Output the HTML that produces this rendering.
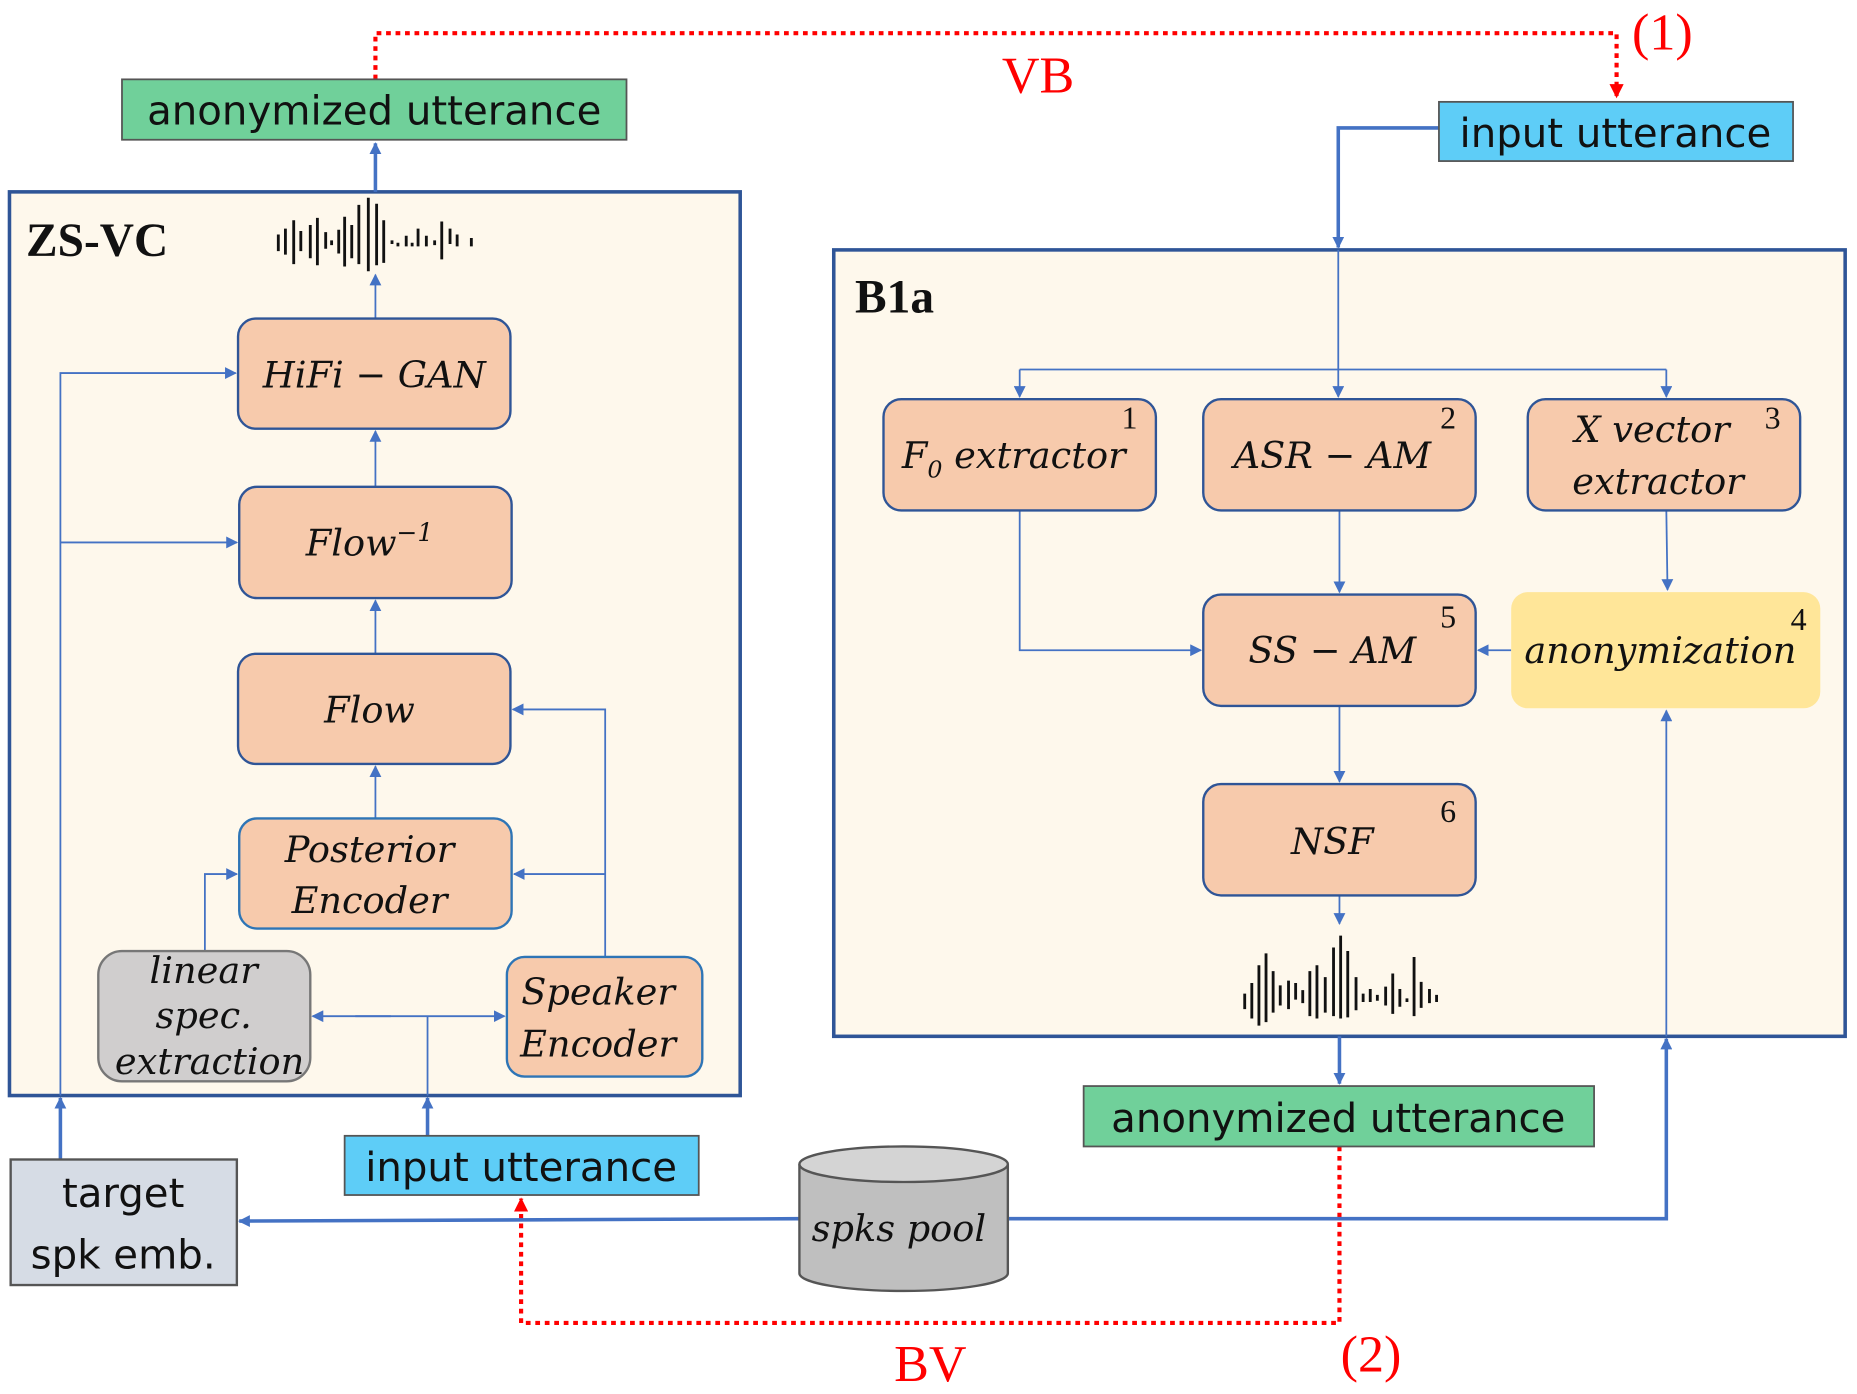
<!DOCTYPE html>
<html><head><style>
html,body{margin:0;padding:0;background:#fff;}
svg{display:block;}
.m{font-family:"DejaVu Serif","Liberation Serif",serif;font-style:italic;font-size:31px;fill:#111;text-anchor:middle;}
.s{font-family:"DejaVu Sans","Liberation Sans",sans-serif;font-size:34px;fill:#111;text-anchor:middle;}
.n{font-family:"Liberation Serif",serif;font-size:27px;fill:#111;}
.r{font-family:"Liberation Serif",serif;font-size:44px;fill:#f00;}
.b{font-family:"Liberation Serif",serif;font-weight:bold;font-size:40px;fill:#111;}
</style></head><body>
<svg width="1857" height="1394" viewBox="0 0 1568 1177" preserveAspectRatio="none" xmlns="http://www.w3.org/2000/svg">
<defs>
<marker id="a" markerWidth="10" markerHeight="10" refX="9" refY="5" orient="auto" markerUnits="userSpaceOnUse"><path d="M0,0 L10,5 L0,10z" fill="#4472c4"/></marker>
<marker id="ra" markerWidth="12" markerHeight="12" refX="11" refY="6" orient="auto" markerUnits="userSpaceOnUse"><path d="M0,0 L12,6 L0,12z" fill="#f00"/></marker>
</defs>
<rect width="1568" height="1177" fill="#fff"/>
<!-- big boxes -->
<rect x="8" y="162" width="617" height="763" fill="#fef8ec" stroke="#2f5597" stroke-width="3"/>
<rect x="704" y="211" width="854" height="664" fill="#fef8ec" stroke="#2f5597" stroke-width="3"/>
<text class="b" x="22" y="216">ZS-VC</text>
<text class="b" x="722" y="264">B1a</text>

<!-- red dotted -->
<g stroke="#f00" stroke-width="3.5" stroke-dasharray="4,4" fill="none">
<path d="M317,67 V28 H1365 V82" marker-end="url(#ra)"/>
<path d="M1131,968 V1117 H440 V1012" marker-end="url(#ra)"/>
</g>
<text class="r" x="1378" y="42">(1)</text>
<text class="r" x="846" y="78">VB</text>
<text class="r" x="1132" y="1158">(2)</text>
<text class="r" x="755" y="1166">BV</text>

<!-- thick connectors -->
<g stroke="#4472c4" stroke-width="3" fill="none">
<path d="M317,162 V121" marker-end="url(#a)"/>
<path d="M1215,108 H1130 V209" marker-end="url(#a)"/>
<path d="M1131,875 V915" marker-end="url(#a)"/>
<path d="M851,1029 H1407 V877" marker-end="url(#a)"/>
<path d="M675,1029 L202,1031" marker-end="url(#a)"/>
<path d="M51,979 V927" marker-end="url(#a)"/>
<path d="M361,959 V927" marker-end="url(#a)"/>
</g>
<!-- thin connectors -->
<g stroke="#4472c4" stroke-width="1.5" fill="none">
<path d="M317,269 V232" marker-end="url(#a)"/>
<path d="M317,411 V364" marker-end="url(#a)"/>
<path d="M317,552 V507" marker-end="url(#a)"/>
<path d="M317,691 V647" marker-end="url(#a)"/>
<path d="M51,925 V315 H199" marker-end="url(#a)"/>
<path d="M51,458 H200" marker-end="url(#a)"/>
<path d="M511,808 V599 H433" marker-end="url(#a)"/>
<path d="M511,738 H434" marker-end="url(#a)"/>
<path d="M173,803 V738 H200" marker-end="url(#a)"/>
<path d="M361,925 V858"/>
<path d="M300,858 H426" marker-end="url(#a)"/>
<path d="M330,858 H264" marker-end="url(#a)"/>
<path d="M1130,211 V335" marker-end="url(#a)"/>
<path d="M861,312 H1407"/>
<path d="M861,312 V335" marker-end="url(#a)"/>
<path d="M1407,312 V335" marker-end="url(#a)"/>
<path d="M861,431 V549 H1014" marker-end="url(#a)"/>
<path d="M1131,431 V500" marker-end="url(#a)"/>
<path d="M1407,431 L1408,498" marker-end="url(#a)"/>
<path d="M1276,549 H1248" marker-end="url(#a)"/>
<path d="M1131,596 V660" marker-end="url(#a)"/>
<path d="M1131,756 V780" marker-end="url(#a)"/>
<path d="M1407,875 V600" marker-end="url(#a)"/>
</g>

<!-- waveforms -->
<g stroke="#111" stroke-width="2.4">
<path d="M235,198v14 M241,193v22 M248,186v37 M254,195v17 M262,190v28 M268,184v40 M275,196v14 M280,203v4 M286,194v20 M291,183v42 M297,190v28 M303,173v50 M311,167v62 M318,172v52 M324,186v36 M331,203v3 M336,205v3 M343,199v9 M348,205v3 M353,193v15 M360,199v9 M367,203v4 M373,187v32 M380,193v13 M386,198v10 M398,201v7"/>
<path d="M1051,839v13 M1057,830v30 M1063,815v51 M1069,805v58 M1075,820v35 M1081,832v17 M1088,828v24 M1094,830v14 M1100,836v11 M1106,820v38 M1112,815v45 M1119,825v30 M1126,800v58 M1132,790v70 M1138,803v56 M1145,825v28 M1151,839v7 M1157,835v11 M1163,840v5 M1170,833v16 M1176,822v34 M1182,835v15 M1188,843v3 M1194,808v50 M1200,829v22 M1207,835v12 M1213,840v6"/>
</g>

<!-- orange boxes -->
<g fill="#f7caac" stroke="#2f5597" stroke-width="2">
<rect x="201" y="269" width="230" height="93" rx="15"/>
<rect x="202" y="411" width="230" height="94" rx="15"/>
<rect x="201" y="552" width="230" height="93" rx="15"/>
<rect x="202" y="691" width="230" height="93" rx="15" stroke="#2e75b6"/>
<rect x="428" y="808" width="165" height="101" rx="15" stroke="#2e75b6"/>
<rect x="746" y="337" width="230" height="94" rx="15"/>
<rect x="1016" y="337" width="230" height="94" rx="15"/>
<rect x="1290" y="337" width="230" height="94" rx="15"/>
<rect x="1016" y="502" width="230" height="94" rx="15"/>
<rect x="1016" y="662" width="230" height="94" rx="15"/>
</g>
<rect x="83" y="803" width="179" height="110" rx="20" fill="#d0cece" stroke="#777" stroke-width="2"/>
<rect x="1276" y="500" width="261" height="98" rx="14" fill="#ffe699"/>

<text class="m" x="316" y="327">HiFi − GAN</text>
<text class="m" x="312" y="469">Flow<tspan font-size="21" dy="-12">−1</tspan></text>
<text class="m" x="312" y="610">Flow</text>
<text class="m" x="312" y="728">Posterior</text>
<text class="m" x="312" y="771">Encoder</text>
<text class="m" x="505" y="848">Speaker</text>
<text class="m" x="505" y="892">Encoder</text>
<text class="m" x="172" y="830" font-size="28">linear</text>
<text class="m" x="172" y="868" font-size="28">spec.</text>
<text class="m" x="177" y="907" font-size="28">extraction</text>
<text class="m" x="856" y="395">F<tspan font-size="20" dy="8">0</tspan><tspan dy="-8"> extractor</tspan></text>
<text class="m" x="1125" y="395">ASR − AM</text>
<text class="m" x="1395" y="373">X vector</text>
<text class="m" x="1400" y="417">extractor</text>
<text class="m" x="1125" y="560">SS − AM</text>
<text class="m" x="1402" y="560">anonymization</text>
<text class="m" x="1125" y="721">NSF</text>
<text class="n" x="947" y="362">1</text>
<text class="n" x="1216" y="362">2</text>
<text class="n" x="1490" y="362">3</text>
<text class="n" x="1512" y="532">4</text>
<text class="n" x="1216" y="530">5</text>
<text class="n" x="1216" y="694">6</text>

<!-- io boxes -->
<rect x="103" y="67" width="426" height="51" fill="#70d09a" stroke="#555" stroke-width="1.5"/>
<text class="s" x="316" y="105">anonymized utterance</text>
<rect x="1215" y="86" width="299" height="50" fill="#5ecdf7" stroke="#555" stroke-width="1.5"/>
<text class="s" x="1364" y="124">input utterance</text>
<rect x="915" y="917" width="431" height="51" fill="#70d09a" stroke="#555" stroke-width="1.5"/>
<text class="s" x="1130" y="956">anonymized utterance</text>
<rect x="291" y="959" width="299" height="50" fill="#5ecdf7" stroke="#555" stroke-width="1.5"/>
<text class="s" x="440" y="997">input utterance</text>
<rect x="9" y="979" width="191" height="106" fill="#d6dce5" stroke="#555" stroke-width="2"/>
<text class="s" x="104" y="1019">target</text>
<text class="s" x="104" y="1071">spk emb.</text>

<!-- cylinder -->
<path d="M675,983 V1075 A88,15 0 0 0 851,1075 V983" fill="#bfbfbf" stroke="#555" stroke-width="2"/>
<ellipse cx="763" cy="983" rx="88" ry="15" fill="#d4d4d4" stroke="#555" stroke-width="2"/>
<text class="m" x="759" y="1048">spks pool</text>
</svg>
</body></html>
